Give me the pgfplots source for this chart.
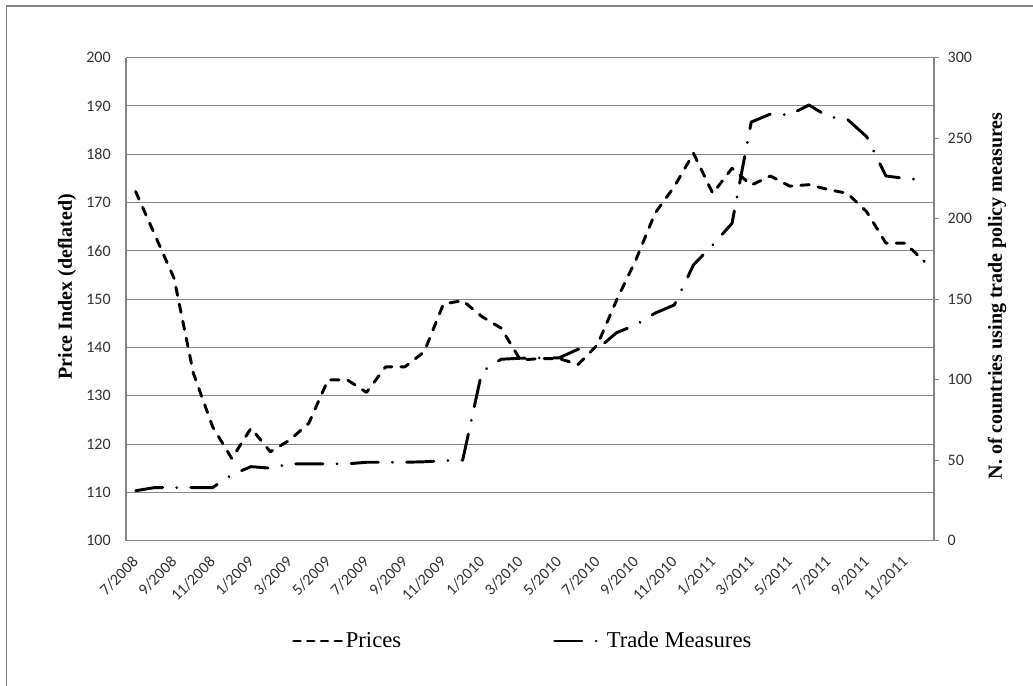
\documentclass[border=0pt]{standalone}
\usepackage{fontspec}
\setmainfont{Liberation Serif}
\newfontfamily\calibri{Carlito}
\usepackage{pgfplots}
\pgfplotsset{compat=1.18}
\usepackage{pgfplotstable}
\definecolor{axgray}{RGB}{134,134,134}
\definecolor{ticktext}{RGB}{50,50,50}

\pgfplotstableread{
idx prices trade
0 172.3 31
1 163.3 33
2 154.3 33
3 134.7 33
4 123.6 33
5 117.0 41
6 123.3 46
7 118.4 45
8 120.8 47.7
9 124.3 47.7
10 133.3 47.7
11 133.3 47.7
12 130.7 48.7
13 136.0 48.7
14 136.0 48.7
15 139.1 49
16 149.0 49.7
17 149.7 50
18 146.4 105
19 144.0 112.7
20 137.4 113.3
21 137.7 113.5
22 137.7 113.5
23 136.5 118.9
24 140.5 119
25 149.8 129.2
26 158.1 134
27 167.8 141.3
28 173.3 146.4
29 180.2 171.3
30 171.9 183.7
31 177.1 197.1
32 173.6 260
33 175.5 265
34 173.4 264.5
35 173.7 270.6
36 172.7 263.3
37 171.9 261.7
38 168.1 250.9
39 161.6 226.5
40 161.6 225
41 157.8 224
}\datatable

\tikzset{
  pricesline/.style={black, line width=2.2pt, line cap=round, line join=round, dash pattern=on 6.3pt off 6.7pt},
  tradeline/.style={black, line width=2.2pt, line cap=round, line join=round, dash pattern=on 20.5pt off 10.5pt on 0.1pt off 10.5pt},
}

\begin{document}
\begin{tikzpicture}
\useasboundingbox (-94.5pt,-109pt) rectangle (680.25pt,405.5pt);
\draw[axgray, line width=1.2pt] (-89.6pt,-109pt) -- (-89.6pt,401pt) -- (680.25pt,401pt);

\begin{axis}[
  scale only axis, width=606pt, height=362.25pt,
  xmin=-0.5, xmax=41.5, ymin=100, ymax=200,
  ytick={100,110,...,200},
  xtick={0,2,...,40},
  xticklabels={7/2008,9/2008,11/2008,1/2009,3/2009,5/2009,7/2009,9/2009,11/2009,1/2010,3/2010,5/2010,7/2010,9/2010,11/2010,1/2011,3/2011,5/2011,7/2011,9/2011,11/2011},
  axis x line*=bottom, axis y line*=left,
  axis line style={axgray, line width=0.8pt, -},
  ymajorgrids, grid style={axgray, line width=0.8pt},
  major tick length=0pt,
  tick style={draw=none},
  /pgf/number format/assume math mode=true,
  ticklabel style={font=\calibri\fontsize{12}{14}\selectfont, text=ticktext},
  yticklabel style={xshift=-8pt},
  xticklabel style={rotate=45, anchor=east, inner sep=0pt},
  xticklabel shift=14pt,
  clip=false,
]
\addplot[pricesline] table[x=idx,y=prices]{\datatable};
\node[rotate=90, font=\bfseries\fontsize{15}{17}\selectfont, anchor=center] at (axis description cs:-0.073,0.5254) {Price Index (deflated)};
\end{axis}

\begin{axis}[
  scale only axis, width=606pt, height=362.25pt,
  xmin=-0.5, xmax=41.5, ymin=0, ymax=300,
  ytick={0,50,...,300},
  axis y line*=right, axis x line=none,
  axis line style={axgray, line width=0.8pt, -},
  ytick align=outside, major tick length=3.75pt,
  tick style={axgray, line width=0.8pt},
  /pgf/number format/assume math mode=true,
  ticklabel style={font=\calibri\fontsize{12}{14}\selectfont, text=ticktext},
  yticklabel style={xshift=3pt},
  clip=false,
  legend columns=2,
  legend style={at={(axis description cs:0.2054,-0.2077)}, anchor=west, draw=none, fill=none,
    font=\fontsize{17}{19}\selectfont, inner sep=0pt,
    /tikz/every even column/.append style={column sep=112pt}},
  legend cell align=left,
  legend image code/.code={\draw[#1] (0pt,0pt) -- (36pt,0pt);},
]
\addlegendimage{pricesline, dash pattern=on 5pt off 5.3pt}
\addlegendentry{Prices}
\addplot[tradeline] table[x=idx,y=trade]{\datatable};
\addlegendentry{Trade Measures}
\node[rotate=90, font=\bfseries\fontsize{15}{17}\selectfont, anchor=center] at (axis description cs:1.078,0.5066) {N. of countries using trade policy measures};
\end{axis}
\end{tikzpicture}
\end{document}
